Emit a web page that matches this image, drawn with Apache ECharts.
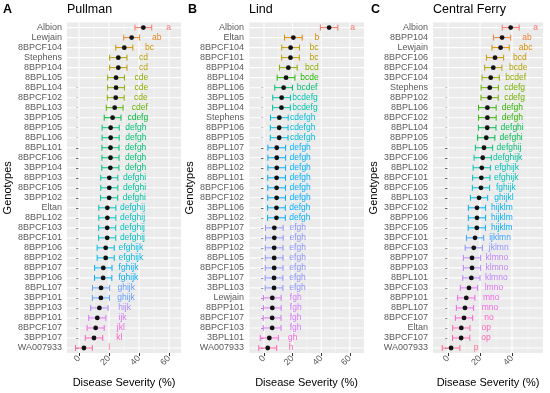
<!DOCTYPE html>
<html><head><meta charset="utf-8">
<script src="https://cdn.jsdelivr.net/npm/echarts@6/dist/echarts.min.js"></script>
<style>html,body{margin:0;padding:0;background:#fff}#c{width:550px;height:393px}</style>
</head><body><div id="c"></div>
<script>
// ---------- DATA ----------
const pullmanGenotypes = ["Albion","Lewjain","8BPCF104","Stephens","8BPP104","8BPL105","8BPL104","8BPCF102","8BPL103","3BPP105","8BPP105","8BPL106","8BPL101","8BPCF106","3BPP104","8BPP103","8BPCF105","3BPP102","Eltan","8BPL102","8BPCF103","8BPCF101","8BPP106","8BPP102","8BPP107","3BPP106","8BPL107","3BPP101","3BPP103","8BPP101","8BPCF107","3BPP107","WA007933"];
const pullmanMeans = [42.9,35.1,30.2,26.2,26.2,24.7,24.7,24.5,23.8,22.4,21.1,21.1,21.0,21.0,20.9,20.2,20.2,20.1,18.9,18.9,18.8,18.8,17.8,17.8,16.2,16.1,14.7,14.6,13.6,12.2,11.1,10.0,3.3];
const pullmanErr = [5.6,5.3,5.7,5.8,5.8,5.6,5.6,5.6,5.6,5.6,5.7,5.7,5.7,5.7,5.7,5.7,5.7,5.7,5.7,5.7,5.7,5.7,5.7,5.7,5.8,5.8,5.7,5.7,5.8,5.7,5.7,5.8,5.6];
const pullmanLetters = ["a","ab","bc","cd","cd","cde","cde","cde","cdef","cdefg","defgh","defgh","defgh","defgh","defgh","defghi","defghi","defghi","defghij","defghij","defghij","defghij","efghijk","efghijk","fghijk","fghijk","ghijk","ghijk","hijk","ijk","jkl","kl","l"];

const lindGenotypes = ["Albion","Eltan","8BPCF104","8BPCF101","8BPP104","8BPL104","8BPL106","3BPL105","3BPL104","Stephens","8BPP106","8BPP105","8BPL107","8BPL103","8BPL102","8BPL101","8BPCF106","8BPCF102","3BPL106","3BPL102","8BPP107","8BPP103","8BPP102","8BPL105","8BPCF105","3BPL107","3BPL103","Lewjain","8BPP101","8BPCF107","8BPCF103","3BPL101","WA007933"];
const lindMeans = [45.5,20.5,18.6,18.5,17.0,15.4,13.7,12.3,12.2,10.7,10.6,10.6,8.9,8.9,8.9,8.8,8.8,8.8,8.7,8.7,7.2,7.2,7.1,7.1,7.1,7.0,7.0,5.8,5.8,5.7,5.7,3.7,2.6];
const lindErr = [6.1,6.2,6.2,6.2,6.2,6.2,6.2,6.2,6.2,6.2,6.2,6.2,6.2,6.2,6.2,6.2,6.2,6.2,6.2,6.2,6.2,6.2,6.2,6.2,6.2,6.2,6.2,6.2,6.2,6.2,6.2,6.3,6.3];
const lindLetters = ["a","b","bc","bc","bcd","bcde","bcdef","bcdefg","bcdefg","cdefgh","cdefgh","cdefgh","defgh","defgh","defgh","defgh","defgh","defgh","defgh","defgh","efgh","efgh","efgh","efgh","efgh","efgh","efgh","fgh","fgh","fgh","fgh","gh","h"];

const ferryGenotypes = ["Albion","8BPP104","Lewjain","8BPCF106","8BPCF104","3BPCF104","Stephens","8BPP102","8BPL106","8BPCF102","8BPL104","8BPP105","8BPL105","3BPCF106","8BPL102","8BPCF101","8BPCF105","8BPL103","3BPCF102","8BPP106","3BPCF105","3BPCF101","8BPCF103","8BPP107","8BPP103","8BPL101","3BPCF103","8BPP101","8BPL107","8BPCF107","Eltan","3BPCF107","WA007933"];
const ferryMeans = [39.2,33.8,32.9,29.4,28.3,26.7,26.1,26.0,24.6,24.6,24.5,23.9,22.5,21.7,21.1,20.8,20.6,19.4,18.1,18.1,18.0,16.9,16.1,15.0,15.0,14.6,13.1,11.4,10.6,10.0,8.3,8.2,1.9];
const ferryErr = [5.3,5.4,5.4,5.4,5.4,5.4,5.4,5.4,5.5,5.5,5.5,5.4,5.4,5.4,5.4,5.4,5.4,5.4,5.4,5.4,5.4,5.4,5.4,5.4,5.4,5.4,5.4,5.4,5.4,5.4,5.4,5.4,5.5];
const ferryLetters = ["a","ab","abc","bcd","bcde","bcdef","cdefg","cdefg","defgh","defgh","defghi","defghi","defghij","defghijk","efghijk","efghijk","fghijk","ghijkl","hijklm","hijklm","hijklm","ijklmn","jklmn","klmno","klmno","klmno","lmno","mno","mno","no","op","op","p"];

const panelTags = ["A","B","C"];
const panelTitles = ["Pullman","Lind","Central Ferry"];
const majorTicks = [0,20,40,60];
const minorTicks = [-10,10,30,50,70];
const xTitle = "Disease Severity (%)";
const yTitle = "Genotypes";

// ---------- LAYOUT / STYLE ----------
const FONT = '"Liberation Sans", Arial, sans-serif';
const panels = [
  {names:pullmanGenotypes, means:pullmanMeans, err:pullmanErr, letters:pullmanLetters, left:67, right:181, min:-8, max:68, off:16.8, tagX:3},
  {names:lindGenotypes, means:lindMeans, err:lindErr, letters:lindLetters, left:249, right:364, min:-10.5, max:69.9, off:16.4, tagX:188},
  {names:ferryGenotypes, means:ferryMeans, err:ferryErr, letters:ferryLetters, left:433, right:543, min:-9.4, max:59.4, off:15.6, tagX:371}
];
const GTOP = 22.6, GH = 334.5;

function hueColor(h){
  const L=65, C=100, hr=h*Math.PI/180;
  const U=C*Math.cos(hr), V=C*Math.sin(hr);
  const Xn=95.047, Yn=100, Zn=108.883;
  const den=Xn+15*Yn+3*Zn, un=4*Xn/den, vn=9*Yn/den;
  const Y=Yn*Math.pow((L+16)/116,3);
  const u=U/(13*L)+un, v=V/(13*L)+vn;
  const X=9*Y*u/(4*v), Z=3*Y/v - X/3 - 5*Y;
  const x=X/100,y=Y/100,z=Z/100;
  let r= 3.240479*x-1.537150*y-0.498535*z;
  let g=-0.969256*x+1.875992*y+0.041556*z;
  let b= 0.055648*x-0.204043*y+1.057311*z;
  const gam=c=>{c=c<=0.0031308?12.92*c:1.055*Math.pow(c,1/2.4)-0.055;return Math.round(Math.max(0,Math.min(1,c))*255);};
  return '#'+[gam(r),gam(g),gam(b)].map(n=>n.toString(16).padStart(2,'0')).join('');
}

const option = {animation:false, textStyle:{fontFamily:FONT}, title:[], grid:[], xAxis:[], yAxis:[], series:[]};

panels.forEach((p,k)=>{
  const groups=[]; p.letters.forEach(l=>{if(groups.indexOf(l)<0)groups.push(l);});
  const n=groups.length;
  const cols=groups.map((g,i)=>hueColor(15+360*i/n));
  const inR=v=>v>p.min&&v<p.max;
  option.title.push({text:panelTags[k], left:p.tagX, top:3, padding:0, textStyle:{fontSize:12.5,fontWeight:'bold',color:'#000',fontFamily:FONT}});
  option.title.push({text:panelTitles[k], left:p.left, top:3, padding:0, textStyle:{fontSize:12.5,fontWeight:'normal',color:'#000',fontFamily:FONT}});
  option.grid.push({left:p.left, top:GTOP, width:p.right-p.left, height:GH, show:true, backgroundColor:'#EBEBEB', borderWidth:0, containLabel:false});
  option.xAxis.push({type:'value', gridIndex:k, min:p.min, max:p.max,
    axisLine:{show:false}, splitLine:{show:false},
    axisTick:{show:true, length:3, lineStyle:{color:'#333'}, customValues:majorTicks.filter(inR)},
    axisLabel:{rotate:45, fontSize:9, color:'#5A5A5A', margin:4, customValues:majorTicks.filter(inR), fontFamily:FONT},
    name:xTitle, nameLocation:'middle', nameGap:24, nameTextStyle:{fontSize:11,color:'#000',fontFamily:FONT}});
  option.yAxis.push({type:'category', gridIndex:k, data:p.names, inverse:true,
    axisLine:{show:false}, splitLine:{show:false},
    axisTick:{show:true, alignWithLabel:true, length:3, lineStyle:{color:'#333'}},
    axisLabel:{fontSize:9, color:'#5A5A5A', margin:5, interval:0, fontFamily:FONT},
    name:yTitle, nameLocation:'middle', nameGap:46, nameRotate:90, nameTextStyle:{fontSize:11,color:'#000',fontFamily:FONT}});
  // vertical grid lines
  const vData = majorTicks.filter(inR).map(v=>[v,0,1]).concat(minorTicks.filter(inR).map(v=>[v,0,0]));
  option.series.push({type:'custom', xAxisIndex:k, yAxisIndex:k, silent:true, z:1, data:vData,
    renderItem:(params,api)=>{
      const cs=params.coordSys; const x=api.coord([api.value(0),0])[0];
      const major=api.value(2)===1;
      return {type:'line', shape:{x1:x,y1:cs.y,x2:x,y2:cs.y+cs.height}, style:{stroke:major?'#FFFFFF':'#F7F7F7', lineWidth:major?1.1:0.6}};
    }});
  // horizontal grid lines
  option.series.push({type:'custom', xAxisIndex:k, yAxisIndex:k, silent:true, z:1, data:p.names.map((nm,i)=>[0,i]),
    renderItem:(params,api)=>{
      const cs=params.coordSys; const y=api.coord([0,api.value(1)])[1];
      return {type:'line', shape:{x1:cs.x,y1:y,x2:cs.x+cs.width,y2:y}, style:{stroke:'#FFFFFF', lineWidth:1.1}};
    }});
  // error bars, points, letters
  option.series.push({type:'custom', xAxisIndex:k, yAxisIndex:k, z:5,
    data:p.means.map((m,i)=>[m,i,p.err[i]]),
    encode:{x:0,y:1},
    renderItem:(params,api)=>{
      const i=params.dataIndex, m=api.value(0), row=api.value(1), e=api.value(2);
      const c=api.coord([m,row]), lo=api.coord([m-e,row]), hi=api.coord([m+e,row]), t=api.coord([m+p.off,row]);
      const col=cols[groups.indexOf(p.letters[i])];
      const cap=3;
      return {type:'group', children:[
        {type:'line', shape:{x1:lo[0],y1:c[1],x2:hi[0],y2:c[1]}, style:{stroke:col,lineWidth:1}},
        {type:'line', shape:{x1:lo[0],y1:c[1]-cap,x2:lo[0],y2:c[1]+cap}, style:{stroke:col,lineWidth:1}},
        {type:'line', shape:{x1:hi[0],y1:c[1]-cap,x2:hi[0],y2:c[1]+cap}, style:{stroke:col,lineWidth:1}},
        {type:'circle', shape:{cx:c[0],cy:c[1],r:2.4}, style:{fill:'#111'}},
        {type:'text', style:{text:p.letters[i], x:t[0], y:c[1], fill:col, font:'8.5px '+FONT, align:'center', verticalAlign:'middle', textAlign:'center', textVerticalAlign:'middle'}}
      ]};
    }});
});

const chart = echarts.init(document.getElementById('c'), null, {renderer:'canvas'});
chart.setOption(option);
</script></body></html>
